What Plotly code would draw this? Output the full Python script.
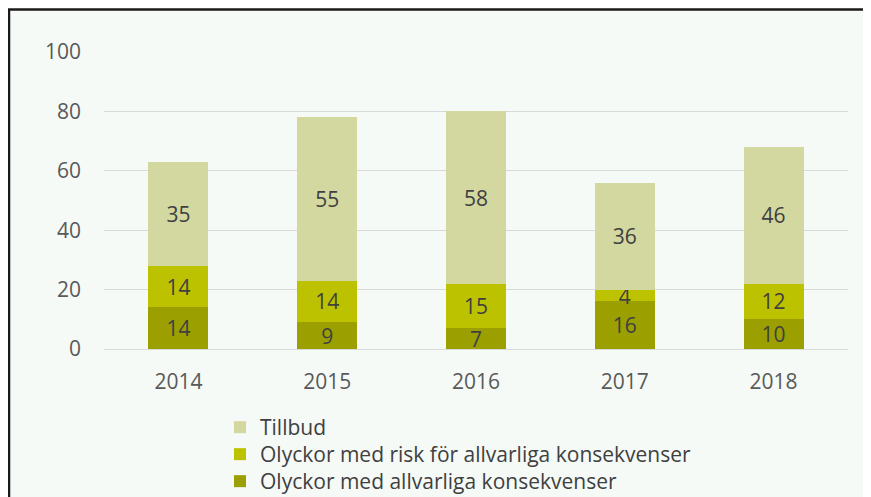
import plotly.graph_objects as go

years = ["2014", "2015", "2016", "2017", "2018"]
allvarliga = [14, 9, 7, 16, 10]
risk = [14, 14, 15, 4, 12]
tillbud = [35, 55, 58, 36, 46]
y_ticks = [0, 20, 40, 60, 80, 100]

FONT = "Open Sans"
fig = go.Figure()
series = [
    ("Olyckor med allvarliga konsekvenser", allvarliga, "#9BA000", "legend3"),
    ("Olyckor med risk för allvarliga konsekvenser", risk, "#BCC200", "legend2"),
    ("Tillbud", tillbud, "#D3D8A0", "legend"),
]
for name, vals, col, lg in series:
    fig.add_trace(go.Bar(
        x=years, y=vals, name=name, legend=lg,
        marker=dict(color=col, line=dict(width=0)),
        text=[str(v) for v in vals],
        textposition="inside", insidetextanchor="middle", textangle=0,
        textfont=dict(family=FONT, size=21, color="#404040"),
        hoverinfo="skip",
    ))

# page body has an 8px offset: figure px = screen px - 8
L, T, R, B = 96, 44, 31, 156
W, H = 871, 497
pw = W - L - R
ph = H - T - B
fig.add_shape(type="rect", xref="paper", yref="paper",
              x0=(1 - L) / pw, x1=1.2, y0=-1.0, y1=1 + (T - 1.5) / ph,
              fillcolor="#F5FAF6", line=dict(color="#1a1a1a", width=2.5),
              layer="below")

legend_x = (212 - L) / pw
legend_style = dict(
    orientation="v", xanchor="left", yanchor="top", x=legend_x,
    bgcolor="rgba(0,0,0,0)",
    font=dict(family=FONT, size=21, color="#404040"),
    itemwidth=30,
)
tops = [399, 426, 453]

fig.update_layout(
    width=W, height=H,
    barmode="stack", bargap=0.597,
    paper_bgcolor="white", plot_bgcolor="rgba(0,0,0,0)",
    margin=dict(l=L, r=R, t=T, b=B, autoexpand=False),
    uniformtext=dict(minsize=21, mode="show"),
    font=dict(family=FONT, size=21, color="#595959"),
    showlegend=True,
    legend=dict(legend_style, y=(341 - tops[0]) / ph),
    legend2=dict(legend_style, y=(341 - tops[1]) / ph),
    legend3=dict(legend_style, y=(341 - tops[2]) / ph),
    xaxis=dict(
        showgrid=False, showline=False, zeroline=False,
        ticks="", ticklabelstandoff=18,
        tickfont=dict(family=FONT, size=21, color="#595959"),
    ),
    yaxis=dict(
        range=[0, 100], tickvals=y_ticks,
        showgrid=True, gridcolor="#D9D9D9", gridwidth=1.3,
        zeroline=True, zerolinecolor="#D9D9D9", zerolinewidth=1.3,
        showline=False, ticks="", ticklabelstandoff=22,
        tickfont=dict(family=FONT, size=21, color="#595959"),
    ),
)

fig.write_html("out.html")
